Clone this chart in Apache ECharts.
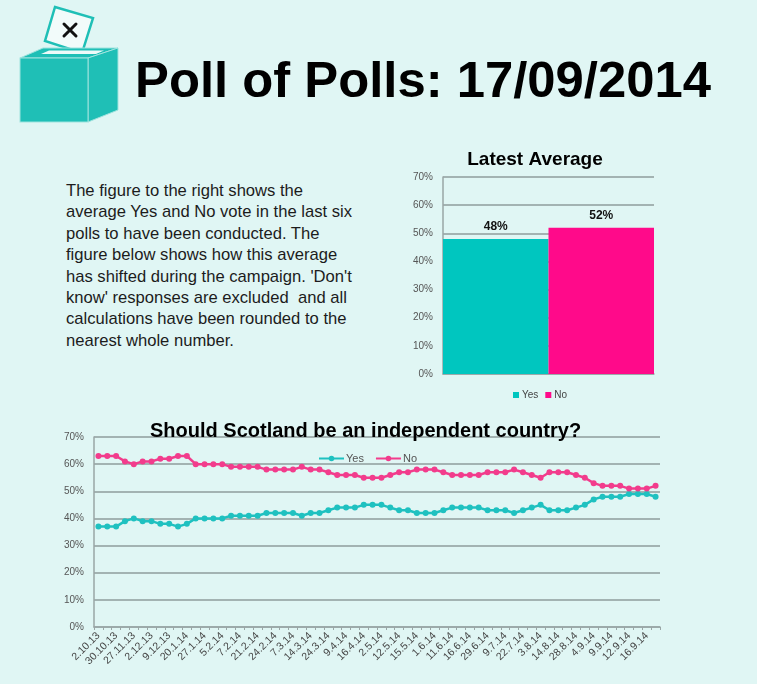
<!DOCTYPE html>
<html>
<head>
<meta charset="utf-8">
<script src="https://cdn.jsdelivr.net/npm/echarts@6/dist/echarts.min.js"></script>
<style>
  html, body { margin: 0; padding: 0; }
  body { width: 757px; height: 684px; background: #e0f6f4; position: relative; overflow: hidden;
         font-family: "Liberation Sans", Arial, Helvetica, sans-serif; }
  #logo { position: absolute; left: 0; top: 0; }
  h1 { position: absolute; left: 135px; top: 55px; margin: 0; font-size: 50.8px; line-height: 50px;
       font-weight: bold; color: #000; white-space: nowrap; }
  #intro { position: absolute; left: 66px; top: 180px; margin: 0; font-size: 16.6px; line-height: 21.4px;
           color: #1c1c1c; white-space: nowrap; }
  #bar-container { position: absolute; left: 400px; top: 140px; width: 270px; height: 270px; }
  #line-container { position: absolute; left: 40px; top: 410px; width: 660px; height: 274px; }
</style>
</head>
<body>
<svg id="logo" width="130" height="130">
  <!-- ballot paper -->
  <polygon points="55,7 93,18 82,53 45,41" fill="#f2fbfa" stroke="#1fbfb6" stroke-width="2.5"/>
  <path d="M64,24 L76,36 M76,24 L64,36" stroke="#111" stroke-width="3" stroke-linecap="round"/>
  <!-- box -->
  <polygon points="20,58 43,48 118,48 88,58" fill="#1fbfb6" stroke="#9fe3de" stroke-width="1"/>
  <polygon points="41,54 49,50.5 104,50.5 96,54" fill="#eefaf9"/>
  <polygon points="88,58 118,48 118,110 88,122" fill="#1fbfb6" stroke="#9fe3de" stroke-width="1"/>
  <rect x="20" y="58" width="68" height="64" fill="#1fbfb6" stroke="#9fe3de" stroke-width="1"/>
</svg>
<h1>Poll of Polls: 17/09/2014</h1>
<p id="intro">The figure to the right shows the<br>average Yes and No vote in the last six<br>polls to have been conducted. The<br>figure below shows how this average<br>has shifted during the campaign. 'Don't<br>know' responses are excluded&nbsp; and all<br>calculations have been rounded to the<br>nearest whole number.</p>
<div id="bar-container"></div>
<div id="line-container"></div>
<script>
// 最新平均
const latestYes = [48]
const latestNo = [52]

// 趋势 (每两个点只标一个日期)
const pollDates = [
  '2.10.13', '', '30.10.13', '', '27.11.13', '', '2.12.13', '', '9.12.13', '', '20.1.14', '',
  '27.1.14', '', '5.2.14', '', '7.2.14', '', '21.2.14', '', '24.2.14', '', '7.3.14', '',
  '14.3.14', '', '24.3.14', '', '9.4.14', '', '16.4.14', '', '2.5.14', '', '12.5.14', '',
  '15.5.14', '', '1.6.14', '', '11.6.14', '', '16.6.14', '', '29.6.14', '', '9.7.14', '',
  '22.7.14', '', '3.8.14', '', '14.8.14', '', '28.8.14', '', '4.9.14', '', '9.9.14', '',
  '12.9.14', '', '16.9.14', ''
]
const yesTrend = [
  37, 37, 37, 39, 40, 39, 39, 38, 38, 37, 38, 40, 40, 40, 40, 41,
  41, 41, 41, 42, 42, 42, 42, 41, 42, 42, 43, 44, 44, 44, 45, 45,
  45, 44, 43, 43, 42, 42, 42, 43, 44, 44, 44, 44, 43, 43, 43, 42,
  43, 44, 45, 43, 43, 43, 44, 45, 47, 48, 48, 48, 49, 49, 49, 48
]
const noTrend = [
  63, 63, 63, 61, 60, 61, 61, 62, 62, 63, 63, 60, 60, 60, 60, 59,
  59, 59, 59, 58, 58, 58, 58, 59, 58, 58, 57, 56, 56, 56, 55, 55,
  55, 56, 57, 57, 58, 58, 58, 57, 56, 56, 56, 56, 57, 57, 57, 58,
  57, 56, 55, 57, 57, 57, 56, 55, 53, 52, 52, 52, 51, 51, 51, 52
]

const fontFamily = '"Liberation Sans", Arial, sans-serif'

const barChart = echarts.init(document.getElementById('bar-container'))
const lineChart = echarts.init(document.getElementById('line-container'))

const percentAxis = (fontSize) => ({
  type: 'value',
  min: 0,
  max: 70,
  interval: 10,
  axisLine: { show: true, lineStyle: { color: '#9aa6a6', width: 1.5 } },
  axisTick: { show: false },
  axisLabel: { formatter: '{value}%', color: '#555', fontSize: fontSize, fontFamily: fontFamily, margin: 10 },
  splitLine: { lineStyle: { color: '#8f9c9c', width: 1.5 } }
})

let barOption = {
  color: ['#00c6bf', '#ff0a8a'],
  textStyle: { fontFamily: fontFamily },
  title: {
    text: 'Latest Average',
    left: 'center',
    top: 5,
    textStyle: { fontSize: 19, fontWeight: 'bold', color: '#000', fontFamily: fontFamily }
  },
  legend: {
    left: 108,
    top: 245,
    itemWidth: 6,
    itemHeight: 6,
    itemGap: 7,
    icon: 'rect',
    textStyle: { fontSize: 10, color: '#444', fontFamily: fontFamily, padding: [0, 0, 0, -2] },
    data: ['Yes', 'No']
  },
  grid: { left: 43, right: 16, top: 37, bottom: 36 },
  xAxis: {
    type: 'category',
    data: ['Latest'],
    axisLine: { show: true, lineStyle: { color: '#9aa6a6', width: 1.5 } },
    axisTick: { show: false },
    axisLabel: { show: false }
  },
  yAxis: percentAxis(10),
  series: [
    {
      name: 'Yes',
      type: 'bar',
      barGap: '0%',
      barCategoryGap: '0%',
      data: latestYes,
      label: { show: true, position: 'top', formatter: '{c}%', fontWeight: 'bold', fontSize: 12, color: '#111', distance: 6 }
    },
    {
      name: 'No',
      type: 'bar',
      barGap: '0%',
      barCategoryGap: '0%',
      data: latestNo,
      label: { show: true, position: 'top', formatter: '{c}%', fontWeight: 'bold', fontSize: 12, color: '#111', distance: 6 }
    }
  ]
}

let lineOption = {
  color: ['#1fc1c0', '#f23c8c'],
  textStyle: { fontFamily: fontFamily },
  title: {
    text: 'Should Scotland be an independent country?',
    left: 105,
    top: 6,
    textStyle: { fontSize: 20, fontWeight: 'bold', color: '#000', fontFamily: fontFamily }
  },
  legend: {
    left: 273,
    top: 38,
    itemWidth: 25,
    itemHeight: 7,
    itemGap: 11,
    textStyle: { fontSize: 11, color: '#555', fontFamily: fontFamily, padding: [0, 0, 0, -3] },
    data: ['Yes', 'No']
  },
  grid: { left: 54, right: 40, top: 27, bottom: 57 },
  xAxis: {
    type: 'category',
    data: pollDates,
    boundaryGap: true,
    axisLine: { show: true, lineStyle: { color: '#9aa6a6', width: 1.5 } },
    axisTick: { show: true, interval: 0, length: 3, lineStyle: { color: '#9aa6a6' } },
    axisLabel: { interval: 1, rotate: 45, fontSize: 10.5, color: '#444', fontFamily: fontFamily, margin: 7 }
  },
  yAxis: percentAxis(10),
  series: [
    {
      name: 'Yes',
      type: 'line',
      data: yesTrend,
      symbol: 'circle',
      symbolSize: 6,
      showAllSymbol: true,
      lineStyle: { width: 2.5 }
    },
    {
      name: 'No',
      type: 'line',
      data: noTrend,
      symbol: 'circle',
      symbolSize: 6,
      showAllSymbol: true,
      lineStyle: { width: 2.5 }
    }
  ]
}

const init = () => {
  barChart.setOption(barOption)
  lineChart.setOption(lineOption)
}

init()
</script>
</body>
</html>
